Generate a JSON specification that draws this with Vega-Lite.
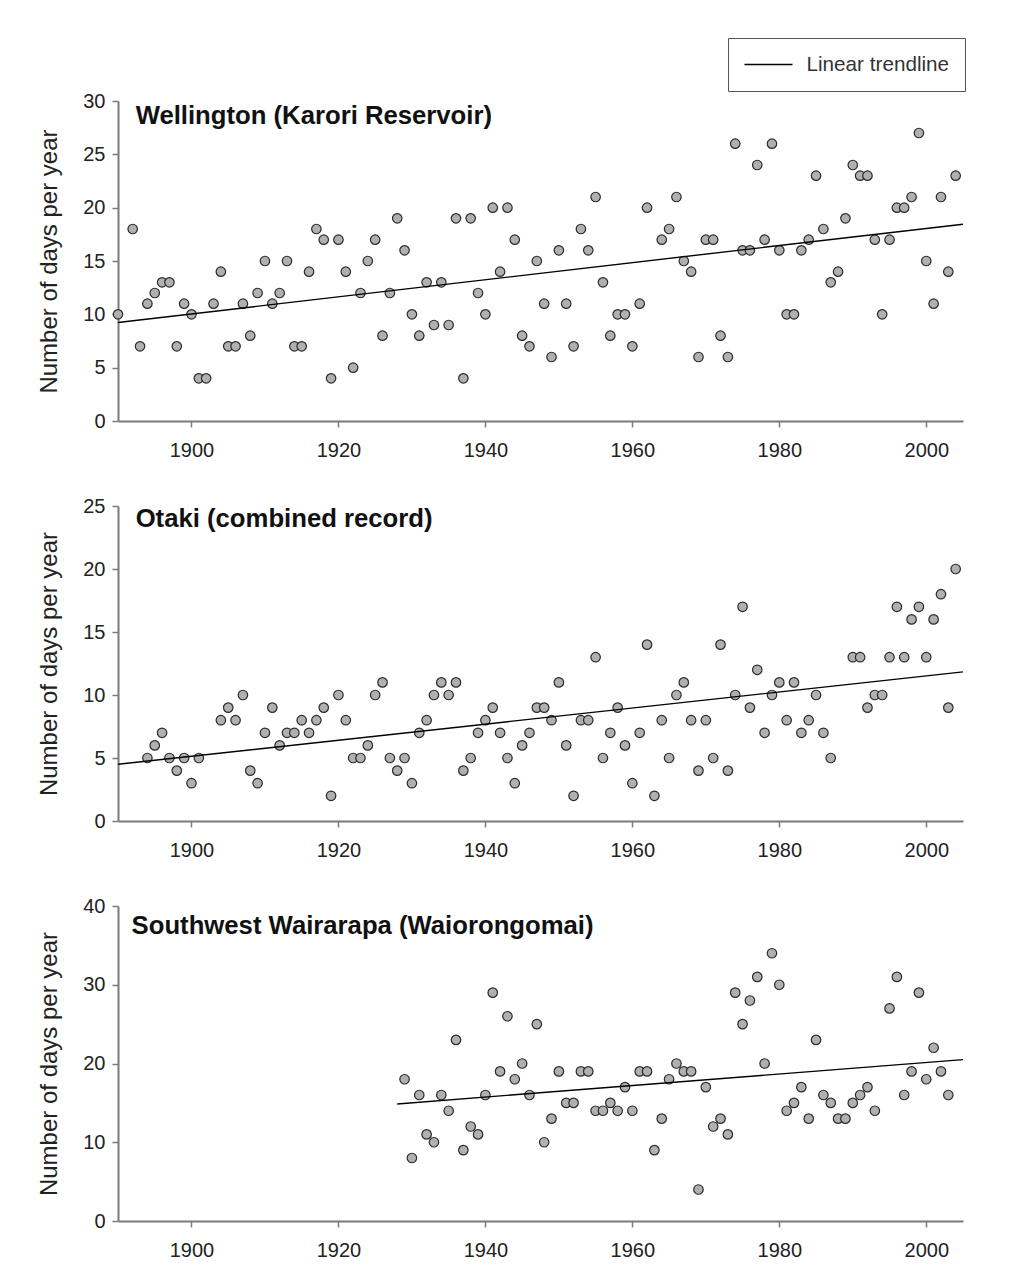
{
  "$schema": "https://vega.github.io/schema/vega-lite/v6.json",
  "padding": {"top": 37, "left": 37, "right": 5, "bottom": 5},
  "background": "white",
  "datasets": {
    "wellington": [
      {"year": 1890, "days": 10}, {"year": 1892, "days": 18}, {"year": 1893, "days": 7}, {"year": 1894, "days": 11},
      {"year": 1895, "days": 12}, {"year": 1896, "days": 13}, {"year": 1897, "days": 13}, {"year": 1898, "days": 7},
      {"year": 1899, "days": 11}, {"year": 1900, "days": 10}, {"year": 1901, "days": 4}, {"year": 1902, "days": 4},
      {"year": 1903, "days": 11}, {"year": 1904, "days": 14}, {"year": 1905, "days": 7}, {"year": 1906, "days": 7},
      {"year": 1907, "days": 11}, {"year": 1908, "days": 8}, {"year": 1909, "days": 12}, {"year": 1910, "days": 15},
      {"year": 1911, "days": 11}, {"year": 1912, "days": 12}, {"year": 1913, "days": 15}, {"year": 1914, "days": 7},
      {"year": 1915, "days": 7}, {"year": 1916, "days": 14}, {"year": 1917, "days": 18}, {"year": 1918, "days": 17},
      {"year": 1919, "days": 4}, {"year": 1920, "days": 17}, {"year": 1921, "days": 14}, {"year": 1922, "days": 5},
      {"year": 1923, "days": 12}, {"year": 1924, "days": 15}, {"year": 1925, "days": 17}, {"year": 1926, "days": 8},
      {"year": 1927, "days": 12}, {"year": 1928, "days": 19}, {"year": 1929, "days": 16}, {"year": 1930, "days": 10},
      {"year": 1931, "days": 8}, {"year": 1932, "days": 13}, {"year": 1933, "days": 9}, {"year": 1934, "days": 13},
      {"year": 1935, "days": 9}, {"year": 1936, "days": 19}, {"year": 1937, "days": 4}, {"year": 1938, "days": 19},
      {"year": 1939, "days": 12}, {"year": 1940, "days": 10}, {"year": 1941, "days": 20}, {"year": 1942, "days": 14},
      {"year": 1943, "days": 20}, {"year": 1944, "days": 17}, {"year": 1945, "days": 8}, {"year": 1946, "days": 7},
      {"year": 1947, "days": 15}, {"year": 1948, "days": 11}, {"year": 1949, "days": 6}, {"year": 1950, "days": 16},
      {"year": 1951, "days": 11}, {"year": 1952, "days": 7}, {"year": 1953, "days": 18}, {"year": 1954, "days": 16},
      {"year": 1955, "days": 21}, {"year": 1956, "days": 13}, {"year": 1957, "days": 8}, {"year": 1958, "days": 10},
      {"year": 1959, "days": 10}, {"year": 1960, "days": 7}, {"year": 1961, "days": 11}, {"year": 1962, "days": 20},
      {"year": 1964, "days": 17}, {"year": 1965, "days": 18}, {"year": 1966, "days": 21}, {"year": 1967, "days": 15},
      {"year": 1968, "days": 14}, {"year": 1969, "days": 6}, {"year": 1970, "days": 17}, {"year": 1971, "days": 17},
      {"year": 1972, "days": 8}, {"year": 1973, "days": 6}, {"year": 1974, "days": 26}, {"year": 1975, "days": 16},
      {"year": 1976, "days": 16}, {"year": 1977, "days": 24}, {"year": 1978, "days": 17}, {"year": 1979, "days": 26},
      {"year": 1980, "days": 16}, {"year": 1981, "days": 10}, {"year": 1982, "days": 10}, {"year": 1983, "days": 16},
      {"year": 1984, "days": 17}, {"year": 1985, "days": 23}, {"year": 1986, "days": 18}, {"year": 1987, "days": 13},
      {"year": 1988, "days": 14}, {"year": 1989, "days": 19}, {"year": 1990, "days": 24}, {"year": 1991, "days": 23},
      {"year": 1992, "days": 23}, {"year": 1993, "days": 17}, {"year": 1994, "days": 10}, {"year": 1995, "days": 17},
      {"year": 1996, "days": 20}, {"year": 1997, "days": 20}, {"year": 1998, "days": 21}, {"year": 1999, "days": 27},
      {"year": 2000, "days": 15}, {"year": 2001, "days": 11}, {"year": 2002, "days": 21}, {"year": 2003, "days": 14},
      {"year": 2004, "days": 23}
    ],
    "otaki": [
      {"year": 1894, "days": 5}, {"year": 1895, "days": 6}, {"year": 1896, "days": 7}, {"year": 1897, "days": 5},
      {"year": 1898, "days": 4}, {"year": 1899, "days": 5}, {"year": 1900, "days": 3}, {"year": 1901, "days": 5},
      {"year": 1904, "days": 8}, {"year": 1905, "days": 9}, {"year": 1906, "days": 8}, {"year": 1907, "days": 10},
      {"year": 1908, "days": 4}, {"year": 1909, "days": 3}, {"year": 1910, "days": 7}, {"year": 1911, "days": 9},
      {"year": 1912, "days": 6}, {"year": 1913, "days": 7}, {"year": 1914, "days": 7}, {"year": 1915, "days": 8},
      {"year": 1916, "days": 7}, {"year": 1917, "days": 8}, {"year": 1918, "days": 9}, {"year": 1919, "days": 2},
      {"year": 1920, "days": 10}, {"year": 1921, "days": 8}, {"year": 1922, "days": 5}, {"year": 1923, "days": 5},
      {"year": 1924, "days": 6}, {"year": 1925, "days": 10}, {"year": 1926, "days": 11}, {"year": 1927, "days": 5},
      {"year": 1928, "days": 4}, {"year": 1929, "days": 5}, {"year": 1930, "days": 3}, {"year": 1931, "days": 7},
      {"year": 1932, "days": 8}, {"year": 1933, "days": 10}, {"year": 1934, "days": 11}, {"year": 1935, "days": 10},
      {"year": 1936, "days": 11}, {"year": 1937, "days": 4}, {"year": 1938, "days": 5}, {"year": 1939, "days": 7},
      {"year": 1940, "days": 8}, {"year": 1941, "days": 9}, {"year": 1942, "days": 7}, {"year": 1943, "days": 5},
      {"year": 1944, "days": 3}, {"year": 1945, "days": 6}, {"year": 1946, "days": 7}, {"year": 1947, "days": 9},
      {"year": 1948, "days": 9}, {"year": 1949, "days": 8}, {"year": 1950, "days": 11}, {"year": 1951, "days": 6},
      {"year": 1952, "days": 2}, {"year": 1953, "days": 8}, {"year": 1954, "days": 8}, {"year": 1955, "days": 13},
      {"year": 1956, "days": 5}, {"year": 1957, "days": 7}, {"year": 1958, "days": 9}, {"year": 1959, "days": 6},
      {"year": 1960, "days": 3}, {"year": 1961, "days": 7}, {"year": 1962, "days": 14}, {"year": 1963, "days": 2},
      {"year": 1964, "days": 8}, {"year": 1965, "days": 5}, {"year": 1966, "days": 10}, {"year": 1967, "days": 11},
      {"year": 1968, "days": 8}, {"year": 1969, "days": 4}, {"year": 1970, "days": 8}, {"year": 1971, "days": 5},
      {"year": 1972, "days": 14}, {"year": 1973, "days": 4}, {"year": 1974, "days": 10}, {"year": 1975, "days": 17},
      {"year": 1976, "days": 9}, {"year": 1977, "days": 12}, {"year": 1978, "days": 7}, {"year": 1979, "days": 10},
      {"year": 1980, "days": 11}, {"year": 1981, "days": 8}, {"year": 1982, "days": 11}, {"year": 1983, "days": 7},
      {"year": 1984, "days": 8}, {"year": 1985, "days": 10}, {"year": 1986, "days": 7}, {"year": 1987, "days": 5},
      {"year": 1990, "days": 13}, {"year": 1991, "days": 13}, {"year": 1992, "days": 9}, {"year": 1993, "days": 10},
      {"year": 1994, "days": 10}, {"year": 1995, "days": 13}, {"year": 1996, "days": 17}, {"year": 1997, "days": 13},
      {"year": 1998, "days": 16}, {"year": 1999, "days": 17}, {"year": 2000, "days": 13}, {"year": 2001, "days": 16},
      {"year": 2002, "days": 18}, {"year": 2003, "days": 9}, {"year": 2004, "days": 20}
    ],
    "wairarapa": [
      {"year": 1929, "days": 18}, {"year": 1930, "days": 8}, {"year": 1931, "days": 16}, {"year": 1932, "days": 11},
      {"year": 1933, "days": 10}, {"year": 1934, "days": 16}, {"year": 1935, "days": 14}, {"year": 1936, "days": 23},
      {"year": 1937, "days": 9}, {"year": 1938, "days": 12}, {"year": 1939, "days": 11}, {"year": 1940, "days": 16},
      {"year": 1941, "days": 29}, {"year": 1942, "days": 19}, {"year": 1943, "days": 26}, {"year": 1944, "days": 18},
      {"year": 1945, "days": 20}, {"year": 1946, "days": 16}, {"year": 1947, "days": 25}, {"year": 1948, "days": 10},
      {"year": 1949, "days": 13}, {"year": 1950, "days": 19}, {"year": 1951, "days": 15}, {"year": 1952, "days": 15},
      {"year": 1953, "days": 19}, {"year": 1954, "days": 19}, {"year": 1955, "days": 14}, {"year": 1956, "days": 14},
      {"year": 1957, "days": 15}, {"year": 1958, "days": 14}, {"year": 1959, "days": 17}, {"year": 1960, "days": 14},
      {"year": 1961, "days": 19}, {"year": 1962, "days": 19}, {"year": 1963, "days": 9}, {"year": 1964, "days": 13},
      {"year": 1965, "days": 18}, {"year": 1966, "days": 20}, {"year": 1967, "days": 19}, {"year": 1968, "days": 19},
      {"year": 1969, "days": 4}, {"year": 1970, "days": 17}, {"year": 1971, "days": 12}, {"year": 1972, "days": 13},
      {"year": 1973, "days": 11}, {"year": 1974, "days": 29}, {"year": 1975, "days": 25}, {"year": 1976, "days": 28},
      {"year": 1977, "days": 31}, {"year": 1978, "days": 20}, {"year": 1979, "days": 34}, {"year": 1980, "days": 30},
      {"year": 1981, "days": 14}, {"year": 1982, "days": 15}, {"year": 1983, "days": 17}, {"year": 1984, "days": 13},
      {"year": 1985, "days": 23}, {"year": 1986, "days": 16}, {"year": 1987, "days": 15}, {"year": 1988, "days": 13},
      {"year": 1989, "days": 13}, {"year": 1990, "days": 15}, {"year": 1991, "days": 16}, {"year": 1992, "days": 17},
      {"year": 1993, "days": 14}, {"year": 1995, "days": 27}, {"year": 1996, "days": 31}, {"year": 1997, "days": 16},
      {"year": 1998, "days": 19}, {"year": 1999, "days": 29}, {"year": 2000, "days": 18}, {"year": 2001, "days": 22},
      {"year": 2002, "days": 19}, {"year": 2003, "days": 16}
    ]
  },
  "vconcat": [
    {
      "width": 845,
      "height": 320,
      "layer": [
        {
          "data": {"name": "wellington"},
          "mark": {"type": "point", "shape": "circle", "filled": true, "fill": "#b0b0b0", "stroke": "#2a2a2a", "strokeWidth": 1.2, "size": 90, "opacity": 1},
          "encoding": {
            "x": {"field": "year", "type": "quantitative", "scale": {"domain": [1890, 2005], "nice": false, "zero": false},
                  "axis": {"title": null, "values": [1900, 1920, 1940, 1960, 1980, 2000], "format": "d"}},
            "y": {"field": "days", "type": "quantitative", "scale": {"domain": [0, 30], "nice": false},
                  "axis": {"title": "Number of days per year", "values": [0, 5, 10, 15, 20, 25, 30]}}
          }
        },
        {
          "data": {"name": "wellington"},
          "transform": [{"regression": "days", "on": "year", "extent": [1890, 2005]}],
          "mark": {"type": "line", "strokeWidth": 1.4},
          "encoding": {
            "x": {"field": "year", "type": "quantitative"},
            "y": {"field": "days", "type": "quantitative"},
            "stroke": {"datum": "Linear trendline", "type": "nominal", "scale": {"range": ["#000000"]},
                       "legend": {"orient": "none", "legendX": 610, "legendY": -63, "title": null, "symbolType": "stroke",
                                  "symbolSize": 2304, "symbolStrokeWidth": 1.4, "clipHeight": 22, "labelFontSize": 20.7, "labelColor": "#333333",
                                  "labelOffset": 13, "padding": 15.5, "strokeColor": "#555555"}}
          }
        },
        {
          "data": {"values": [{"label": "Wellington (Karori Reservoir)"}]},
          "mark": {"type": "text", "align": "left", "baseline": "middle", "fontSize": 25.7, "fontWeight": "bold", "color": "#111111"},
          "encoding": {
            "x": {"datum": 1892.4, "type": "quantitative"},
            "y": {"datum": 28.6, "type": "quantitative"},
            "text": {"field": "label"}
          }
        }
      ]
    },
    {
      "width": 845,
      "height": 315,
      "layer": [
        {
          "data": {"name": "otaki"},
          "mark": {"type": "point", "shape": "circle", "filled": true, "fill": "#b0b0b0", "stroke": "#2a2a2a", "strokeWidth": 1.2, "size": 90, "opacity": 1},
          "encoding": {
            "x": {"field": "year", "type": "quantitative", "scale": {"domain": [1890, 2005], "nice": false, "zero": false},
                  "axis": {"title": null, "values": [1900, 1920, 1940, 1960, 1980, 2000], "format": "d"}},
            "y": {"field": "days", "type": "quantitative", "scale": {"domain": [0, 25], "nice": false},
                  "axis": {"title": "Number of days per year", "values": [0, 5, 10, 15, 20, 25]}}
          }
        },
        {
          "data": {"name": "otaki"},
          "transform": [{"regression": "days", "on": "year", "extent": [1890, 2005]}],
          "mark": {"type": "line", "color": "#000000", "strokeWidth": 1.4},
          "encoding": {
            "x": {"field": "year", "type": "quantitative"},
            "y": {"field": "days", "type": "quantitative"}
          }
        },
        {
          "data": {"values": [{"label": "Otaki (combined record)"}]},
          "mark": {"type": "text", "align": "left", "baseline": "middle", "fontSize": 25.7, "fontWeight": "bold", "color": "#111111"},
          "encoding": {
            "x": {"datum": 1892.4, "type": "quantitative"},
            "y": {"datum": 23.93, "type": "quantitative"},
            "text": {"field": "label"}
          }
        }
      ]
    },
    {
      "width": 845,
      "height": 315,
      "layer": [
        {
          "data": {"name": "wairarapa"},
          "mark": {"type": "point", "shape": "circle", "filled": true, "fill": "#b0b0b0", "stroke": "#2a2a2a", "strokeWidth": 1.2, "size": 90, "opacity": 1},
          "encoding": {
            "x": {"field": "year", "type": "quantitative", "scale": {"domain": [1890, 2005], "nice": false, "zero": false},
                  "axis": {"title": null, "values": [1900, 1920, 1940, 1960, 1980, 2000], "format": "d"}},
            "y": {"field": "days", "type": "quantitative", "scale": {"domain": [0, 40], "nice": false},
                  "axis": {"title": "Number of days per year", "values": [0, 10, 20, 30, 40]}}
          }
        },
        {
          "data": {"name": "wairarapa"},
          "transform": [{"regression": "days", "on": "year", "extent": [1928, 2005]}],
          "mark": {"type": "line", "color": "#000000", "strokeWidth": 1.4},
          "encoding": {
            "x": {"field": "year", "type": "quantitative"},
            "y": {"field": "days", "type": "quantitative"}
          }
        },
        {
          "data": {"values": [{"label": "Southwest Wairarapa (Waiorongomai)"}]},
          "mark": {"type": "text", "align": "left", "baseline": "middle", "fontSize": 25.7, "fontWeight": "bold", "color": "#111111"},
          "encoding": {
            "x": {"datum": 1891.85, "type": "quantitative"},
            "y": {"datum": 37.52, "type": "quantitative"},
            "text": {"field": "label"}
          }
        }
      ]
    }
  ],
  "spacing": 36,
  "resolve": {"scale": {"x": "independent", "y": "independent"}},
  "config": {
    "font": "Liberation Sans",
    "view": {"stroke": null},
    "axis": {
      "domainColor": "#7a7a7a", "domainWidth": 2, "tickColor": "#7a7a7a", "tickWidth": 1.5, "tickSize": 6,
      "labelFont": "Liberation Sans", "labelFontSize": 20, "labelColor": "#222222", "labelPadding": 7, "grid": false,
      "titleFont": "Liberation Sans", "titleFontSize": 24, "titleFontWeight": "normal", "titleColor": "#222222", "titlePadding": 21
    },
    "axisX": {"labelPadding": 13},
    "legend": {"labelFont": "Liberation Sans"}
  }
}
